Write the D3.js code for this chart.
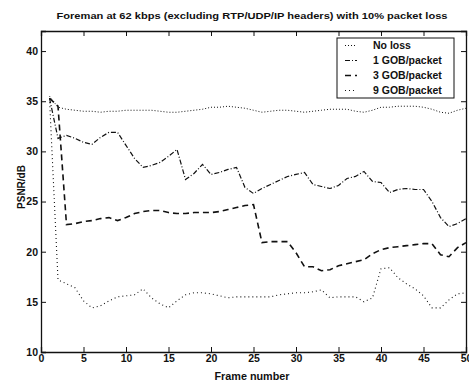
<!DOCTYPE html>
<html>
<head>
<meta charset="utf-8">
<script src="https://cdn.jsdelivr.net/npm/d3@7"></script>
<style>
  body { margin: 0; background: #fff; }
  text { font-family: "Liberation Sans", Arial, sans-serif; font-weight: bold; fill: #111; }
</style>
</head>
<body>
<div id="chart"></div>
<script>
// data
const frames = d3.range(1, 51);
const noLoss = [35.5, 34.4, 34.2, 34.1, 34.0, 34.0, 33.9, 34.0, 34.0, 34.1,
  34.1, 34.1, 34.1, 34.0, 33.9, 33.9, 34.0, 34.1, 34.2, 34.4,
  34.4, 34.5, 34.4, 34.3, 34.1, 33.9, 34.0, 34.1, 34.1, 34.0,
  33.9, 34.0, 34.1, 34.2, 34.2, 34.2, 34.0, 33.9, 34.1, 34.4,
  34.4, 34.5, 34.5, 34.5, 34.4, 34.2, 33.9, 33.8, 34.1, 34.3];
const gob1 = [35.3, 31.3, 31.6, 31.3, 30.9, 30.7, 31.4, 31.9, 31.9, 30.6,
  29.3, 28.4, 28.6, 28.9, 29.5, 30.2, 27.2, 27.8, 28.7, 27.7,
  27.9, 28.2, 28.4, 26.4, 25.8, 26.3, 26.7, 27.1, 27.5, 27.7,
  27.9, 26.7, 26.5, 26.3, 26.6, 27.3, 27.5, 28.0, 27.0, 26.9,
  25.9, 26.2, 26.3, 26.2, 26.2, 25.0, 23.4, 22.5, 22.8, 23.3];
const gob3 = [35.3, 34.5, 22.7, 22.8, 23.0, 23.1, 23.3, 23.4, 23.1, 23.4,
  23.8, 24.0, 24.1, 24.1, 23.9, 23.8, 23.8, 23.9, 23.9, 23.9,
  24.0, 24.2, 24.4, 24.6, 24.7, 20.9, 21.0, 21.0, 21.0, 19.9,
  18.5, 18.5, 18.1, 18.2, 18.6, 18.8, 19.0, 19.2, 19.8, 20.2,
  20.4, 20.5, 20.6, 20.7, 20.8, 20.8, 19.7, 19.5, 20.4, 20.9];
const gob9 = [35.3, 17.2, 16.8, 16.4, 15.1, 14.4, 14.6, 15.1, 15.5, 15.6,
  15.7, 16.3, 15.4, 14.8, 14.4, 15.1, 15.7, 15.9, 15.9, 15.8,
  15.6, 15.4, 15.5, 15.5, 15.5, 15.5, 15.5, 15.7, 15.8, 15.9,
  15.9, 16.0, 16.2, 15.4, 15.5, 15.5, 15.5, 15.0, 15.4, 18.3,
  18.4, 17.4, 16.8, 16.3, 15.6, 14.4, 14.4, 15.2, 15.8, 15.9];
const seriesNames = ["No loss", "1 GOB/packet", "3 GOB/packet", "9 GOB/packet"];
const xTicks = [0, 5, 10, 15, 20, 25, 30, 35, 40, 45, 50];
const yTicks = [10, 15, 20, 25, 30, 35, 40];

const width = 469, height = 384;
const margin = { top: 31, right: 3, bottom: 32, left: 41 };
const innerW = width - margin.left - margin.right;
const innerH = height - margin.top - margin.bottom;

const series = [
  { name: seriesNames[0], values: noLoss, dash: "1,2", w: 1 },
  { name: seriesNames[1], values: gob1, dash: "5,2,1,2", w: 1.2 },
  { name: seriesNames[2], values: gob3, dash: "6,4", w: 1.6 },
  { name: seriesNames[3], values: gob9, dash: "1,3", w: 1.1 }
];

const svg = d3.select("#chart").append("svg")
  .attr("width", width)
  .attr("height", height);

const x = d3.scaleLinear().domain([0, 50]).range([margin.left, margin.left + innerW]);
const y = d3.scaleLinear().domain([10, 42]).range([margin.top + innerH, margin.top]);

// title
svg.append("text")
  .attr("x", 252).attr("y", 19)
  .attr("text-anchor", "middle")
  .attr("font-size", 9.5)
  .attr("textLength", 391)
  .attr("lengthAdjust", "spacingAndGlyphs")
  .text("Foreman at 62 kbps (excluding RTP/UDP/IP headers) with 10% packet loss");

// axes, ticks pointing inward (bottom/left with labels, top/right mirrors)
const tickLen = 5;
svg.append("g")
  .attr("transform", `translate(0,${y(10)})`)
  .call(d3.axisBottom(x).tickValues(xTicks).tickSize(-tickLen).tickPadding(3))
  .call(g => g.selectAll("text").attr("font-size", 10.5));
svg.append("g")
  .attr("transform", `translate(0,${y(42)})`)
  .call(d3.axisTop(x).tickValues(xTicks).tickSize(-tickLen).tickFormat(""));
svg.append("g")
  .attr("transform", `translate(${x(0)},0)`)
  .call(d3.axisLeft(y).tickValues(yTicks).tickSize(-tickLen).tickPadding(3))
  .call(g => g.selectAll("text").attr("font-size", 10.5));
svg.append("g")
  .attr("transform", `translate(${x(50)},0)`)
  .call(d3.axisRight(y).tickValues(yTicks).tickSize(-tickLen).tickFormat(""));

svg.selectAll(".domain").attr("stroke", "#111").attr("stroke-width", 1.3);
svg.selectAll(".tick line").attr("stroke", "#111");
svg.selectAll(".tick text").style("font-family", "'Liberation Sans', Arial, sans-serif")
  .style("font-weight", "bold").attr("fill", "#111");

// axis labels
svg.append("text")
  .attr("x", 252).attr("y", 380)
  .attr("text-anchor", "middle")
  .attr("font-size", 10)
  .attr("textLength", 75)
  .attr("lengthAdjust", "spacingAndGlyphs")
  .text("Frame number");
svg.append("text")
  .attr("transform", `translate(25,187) rotate(-90)`)
  .attr("text-anchor", "middle")
  .attr("font-size", 10)
  .text("PSNR/dB");

// lines
const line = d3.line()
  .x((d, i) => x(frames[i]))
  .y(d => y(d));

svg.append("g").selectAll("path")
  .data(series)
  .join("path")
  .attr("d", d => line(d.values))
  .attr("fill", "none")
  .attr("stroke", "#111")
  .attr("stroke-width", d => d.w)
  .attr("stroke-dasharray", d => d.dash);

// legend
const legend = svg.append("g").attr("transform", "translate(337,38)");
legend.append("rect")
  .attr("width", 117).attr("height", 60)
  .attr("fill", "#fff").attr("stroke", "#111").attr("stroke-width", 1);
const rows = legend.selectAll("g.row")
  .data(series)
  .join("g")
  .attr("class", "row")
  .attr("transform", (d, i) => `translate(0,${7.5 + i * 15})`);
rows.append("line")
  .attr("x1", 8).attr("x2", 20)
  .attr("stroke", "#111")
  .attr("stroke-width", d => d.w)
  .attr("stroke-dasharray", d => d.dash);
rows.append("text")
  .attr("x", 36).attr("dy", "0.35em")
  .attr("font-size", 10.5)
  .text(d => d.name);
</script>
</body>
</html>
